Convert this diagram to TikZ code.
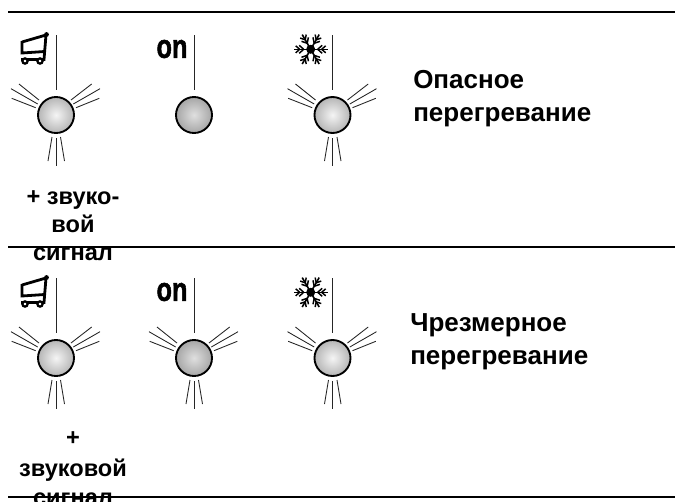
\documentclass[tikz,border=0pt]{standalone}
\usepackage{fontspec}
\setmainfont{Liberation Sans}
\newfontfamily\onfont[FakeBold=1.6]{Liberation Sans Bold}
\tikzset{
  lamp/.style={circle,draw=black,line width=1.4pt,minimum size=27pt,inner sep=0pt,inner color=gray!8,outer color=gray!58},
  lampdim/.style={lamp,inner color=gray!25,outer color=gray!70},
  ray/.style={line width=0.65pt,black!85},
  rule/.style={line width=2.2pt},
  caption/.style={font=\bfseries\fontsize{19.5}{25}\selectfont,align=left,anchor=north west,inner sep=0pt},
  sound/.style={font=\bfseries\fontsize{17.7}{21}\selectfont,align=center,anchor=base,inner sep=0pt},
  ontext/.style={font=\onfont\fontsize{25}{25}\selectfont,inner sep=0pt,xscale=0.76}
}
% rays round one lamp
\newcommand{\lamprays}[1]{
  \draw[ray] (#1)++(-17,-15) -- ++(-20,-16);
  \draw[ray] (#1)++(-18.3,-11) -- ++(-26.7,-15.3);
  \draw[ray] (#1)++(-20.3,-7.3) -- ++(-24,-9.4);
  \draw[ray] (#1)++(15,-15) -- ++(20.7,-16);
  \draw[ray] (#1)++(17.3,-11) -- ++(26.7,-15.3);
  \draw[ray] (#1)++(20,-7.3) -- ++(23.3,-9.4);
  \draw[ray] (#1)++(-4,22) -- ++(-4,24);
  \draw[ray] (#1)++(0,23) -- ++(0,28);
  \draw[ray] (#1)++(4.5,22) -- ++(4,24);
}
\newcommand{\carticon}[1]{
  \begin{scope}[shift={(#1)}]
    \draw[line width=2.1pt] (1,8) -- (25,1) -- (23,25.5) -- (0,25.5);
    \draw[line width=2.1pt] (1,7) -- (1,19) -- (23.5,17.5);
    \fill (25.5,0.5) circle (2.4);
    \draw[line width=1.7pt,fill=white] (4,27) circle (2.6);
    \draw[line width=1.7pt,fill=white] (19,27) circle (2.6);
  \end{scope}
}
\newcommand{\flakeicon}[1]{
  \begin{scope}[shift={(#1)}]
    \fill (0,0) circle (4.5);
    \foreach \ang in {0,60,...,300} {
      \begin{scope}[rotate=\ang]
        \draw[line width=1.2pt] (0,0) -- (17,0);
        \draw[line width=1.1pt] (7,0) -- (11.5,4) (7,0) -- (11.5,-4);
        \draw[line width=1.1pt] (11,0) -- (15,3.5) (11,0) -- (15,-3.5);
      \end{scope}
    }
  \end{scope}
}
\begin{document}
\begin{tikzpicture}[x=0.75pt,y=-0.75pt]
\useasboundingbox (0,0) rectangle (675,501);
\fill[white] (0,0) rectangle (675,501);
% upper row
\node[lamp] (lampA) at (56,115) {};
\node[lampdim] (lampB) at (194,115) {};
\node[lamp] (lampC) at (332.5,115) {};
\lamprays{lampA.center}
\lamprays{lampC.center}
\coordinate (topA) at (56,35);
\coordinate (topB) at (194,35);
\coordinate (topC) at (332.5,35);
\coordinate (endA) at (56,90);
\coordinate (endB) at (194,90);
\coordinate (endC) at (332.5,90);
\draw[ray] (topA) -- (endA);
\draw[ray] (topB) -- (endB);
\draw[ray] (topC) -- (endC);
\carticon{21,34}
\node[ontext] (onA) at (172,49) {on};
\flakeicon{310.7,49.3}
\node[sound] (soundA) at (73,204) {+ звуко-};
\node[sound] (soundB) at (73,232) {вой};
\node[sound] (soundC) at (73,260) {сигнал};
\node[caption] (hotA) at (413,70) {Опасное\\перегревание};
% lower row
\node[lamp] (lampD) at (56,358) {};
\node[lampdim] (lampE) at (194,358) {};
\node[lamp] (lampF) at (332.5,358) {};
\lamprays{lampD.center}
\lamprays{lampE.center}
\lamprays{lampF.center}
\coordinate (topD) at (56,278);
\coordinate (topE) at (194,278);
\coordinate (topF) at (332.5,278);
\coordinate (endD) at (56,333);
\coordinate (endE) at (194,333);
\coordinate (endF) at (332.5,333);
\draw[ray] (topD) -- (endD);
\draw[ray] (topE) -- (endE);
\draw[ray] (topF) -- (endF);
\carticon{21,277}
\node[ontext] (onB) at (172,292) {on};
\flakeicon{310.7,292.3}
\node[sound] (soundD) at (73,445) {+};
\node[sound] (soundE) at (73,476) {звуковой};
\node[sound] (soundF) at (73,505) {сигнал};
\node[caption] (hotB) at (410,313) {Чрезмерное\\перегревание};
% rules
\coordinate (ruleAl) at (8,12);
\coordinate (ruleAr) at (675,12);
\coordinate (ruleBl) at (8,247);
\coordinate (ruleBr) at (675,247);
\coordinate (ruleCl) at (8,497);
\coordinate (ruleCr) at (675,497);
\draw[rule] (ruleAl) -- (ruleAr);
\draw[rule] (ruleBl) -- (ruleBr);
\draw[rule] (ruleCl) -- (ruleCr);
\end{tikzpicture}
\end{document}
